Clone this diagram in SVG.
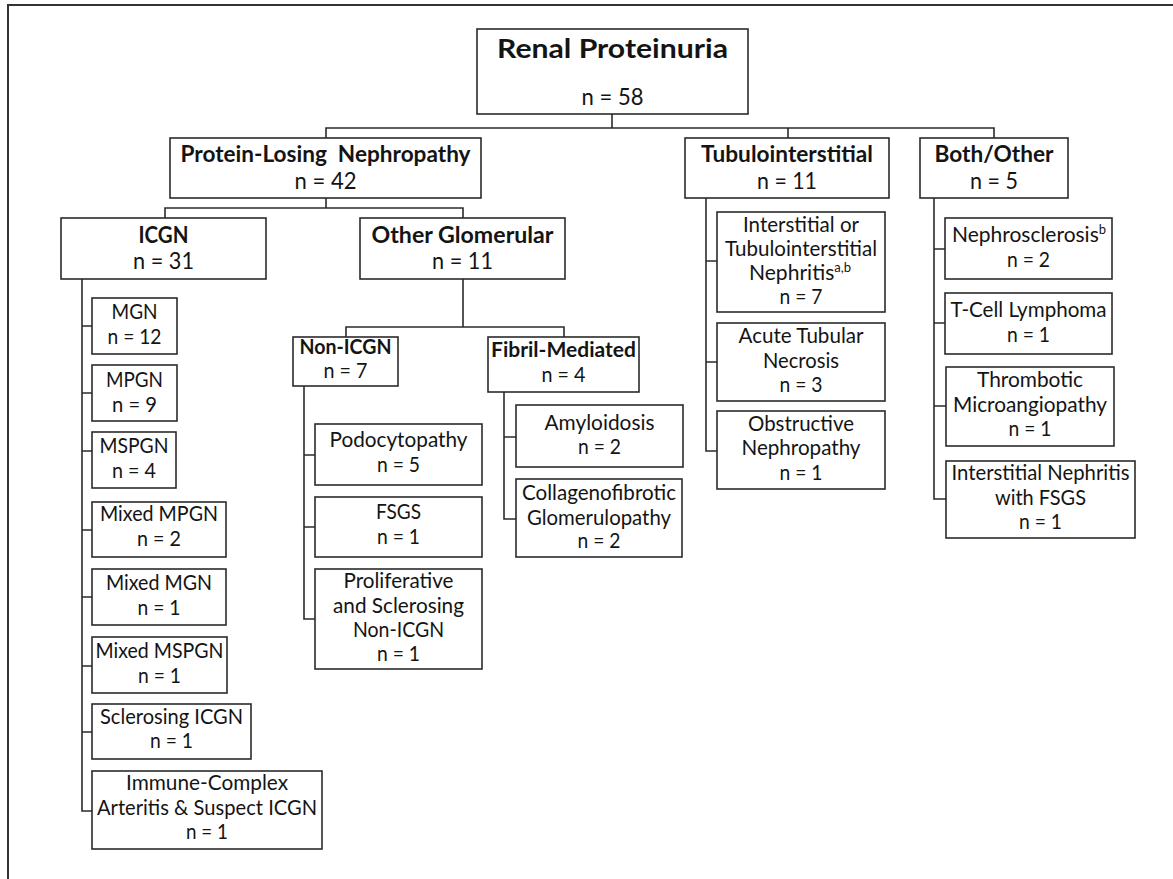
<svg xmlns="http://www.w3.org/2000/svg" width="1173" height="879" viewBox="0 0 1173 879">
<style>
rect.box{fill:#fff;stroke:#2b2b2b;stroke-width:1.6}
.conn path{fill:none;stroke:#2b2b2b;stroke-width:1.6}
text{font-family:Lato,"Open Sans","Liberation Sans",sans-serif;fill:#141414;text-anchor:middle}
.rt{font-size:27px;font-weight:700}
.hb{font-size:22px;font-weight:700}
.hn{font-size:23px}
.sb{font-size:20px;font-weight:700}
.lf{font-size:21px}
.sup{font-size:13px}
</style>
<rect width="1173" height="879" fill="#fff"/>
<path d="M8,879 V5 H1173" fill="none" stroke="#333" stroke-width="2"/>
<g id="connectors" class="conn">
<path d="M612,114 V128 M326,138 V128 H994 V138 M788,128 V138"/>
<path d="M326,198 V208 M165,218 V208 H463 V218"/>
<path d="M463,279 V327 M346,337 V327 H564 V337"/>
<path d="M82,279 V811 H92 M82,326 H92 M82,393 H92 M82,451 H92 M82,530 H92 M82,597 H92 M82,666 H92 M82,732 H92"/>
<path d="M304,386 V619 H315 M304,455 H315 M304,527 H315"/>
<path d="M504,392 V519 H516 M504,437 H516"/>
<path d="M706,198 V451 H717 M706,261 H717 M706,362 H717"/>
<path d="M934,198 V499 H946 M934,249 H945 M934,323 H945 M934,406 H946"/>
</g>
<g id="root"><rect class="box" x="477" y="29" width="271" height="85"/>
<text class="rt" x="612.5" y="58" textLength="231" lengthAdjust="spacingAndGlyphs">Renal Proteinuria</text>
<text class="hn" x="612.5" y="105" textLength="62" lengthAdjust="spacingAndGlyphs">n = 58</text></g>
<g id="pln"><rect class="box" x="170" y="138" width="311" height="60"/>
<text class="hb" x="325.5" y="162" textLength="290" lengthAdjust="spacingAndGlyphs">Protein-Losing&#160; Nephropathy</text>
<text class="hn" x="325.5" y="189" textLength="62" lengthAdjust="spacingAndGlyphs">n = 42</text></g>
<g id="tubulo"><rect class="box" x="685" y="138" width="204" height="60"/>
<text class="hb" x="787" y="162" textLength="172" lengthAdjust="spacingAndGlyphs">Tubulointerstitial</text>
<text class="hn" x="787" y="189" textLength="60" lengthAdjust="spacingAndGlyphs">n = 11</text></g>
<g id="both"><rect class="box" x="920" y="138" width="148" height="60"/>
<text class="hb" x="994" y="162" textLength="119" lengthAdjust="spacingAndGlyphs">Both/Other</text>
<text class="hn" x="994" y="189" textLength="48" lengthAdjust="spacingAndGlyphs">n = 5</text></g>
<g id="icgn"><rect class="box" x="61" y="218" width="205" height="61"/>
<text class="hb" x="163.5" y="243" textLength="50" lengthAdjust="spacingAndGlyphs">ICGN</text>
<text class="hn" x="163.5" y="269" textLength="61" lengthAdjust="spacingAndGlyphs">n = 31</text></g>
<g id="other-glomerular"><rect class="box" x="360" y="218" width="205" height="61"/>
<text class="hb" x="462.5" y="243" textLength="182" lengthAdjust="spacingAndGlyphs">Other Glomerular</text>
<text class="hn" x="462.5" y="269" textLength="61" lengthAdjust="spacingAndGlyphs">n = 11</text></g>
<g id="non-icgn"><rect class="box" x="293" y="337" width="105" height="49"/>
<text class="sb" x="345.5" y="354" textLength="92" lengthAdjust="spacingAndGlyphs">Non-ICGN</text>
<text class="lf" x="345.5" y="378" textLength="44" lengthAdjust="spacingAndGlyphs">n = 7</text></g>
<g id="fibril"><rect class="box" x="488" y="337" width="151" height="55"/>
<text class="sb" x="563.5" y="357" textLength="145" lengthAdjust="spacingAndGlyphs">Fibril-Mediated</text>
<text class="lf" x="563.5" y="382" textLength="44" lengthAdjust="spacingAndGlyphs">n = 4</text></g>
<g id="mgn"><rect class="box" x="92" y="298" width="85" height="56"/>
<text class="lf" x="134.5" y="319" textLength="46" lengthAdjust="spacingAndGlyphs">MGN</text>
<text class="lf" x="134.5" y="344" textLength="54" lengthAdjust="spacingAndGlyphs">n = 12</text></g>
<g id="mpgn"><rect class="box" x="92" y="365" width="85" height="56"/>
<text class="lf" x="134.5" y="387" textLength="57" lengthAdjust="spacingAndGlyphs">MPGN</text>
<text class="lf" x="134.5" y="412" textLength="45" lengthAdjust="spacingAndGlyphs">n = 9</text></g>
<g id="mspgn"><rect class="box" x="92" y="432" width="84" height="56"/>
<text class="lf" x="134" y="453" textLength="69" lengthAdjust="spacingAndGlyphs">MSPGN</text>
<text class="lf" x="134" y="478" textLength="44" lengthAdjust="spacingAndGlyphs">n = 4</text></g>
<g id="mixed-mpgn"><rect class="box" x="92" y="502" width="134" height="55"/>
<text class="lf" x="159" y="521" textLength="118" lengthAdjust="spacingAndGlyphs">Mixed MPGN</text>
<text class="lf" x="159" y="546" textLength="44" lengthAdjust="spacingAndGlyphs">n = 2</text></g>
<g id="mixed-mgn"><rect class="box" x="92" y="569" width="134" height="56"/>
<text class="lf" x="159" y="590" textLength="106" lengthAdjust="spacingAndGlyphs">Mixed MGN</text>
<text class="lf" x="159" y="615" textLength="43" lengthAdjust="spacingAndGlyphs">n = 1</text></g>
<g id="mixed-mspgn"><rect class="box" x="92" y="637" width="135" height="56"/>
<text class="lf" x="159.5" y="658" textLength="128" lengthAdjust="spacingAndGlyphs">Mixed MSPGN</text>
<text class="lf" x="159.5" y="683" textLength="43" lengthAdjust="spacingAndGlyphs">n = 1</text></g>
<g id="sclerosing-icgn"><rect class="box" x="92" y="704" width="159" height="55"/>
<text class="lf" x="171.5" y="724" textLength="143" lengthAdjust="spacingAndGlyphs">Sclerosing ICGN</text>
<text class="lf" x="171.5" y="748" textLength="43" lengthAdjust="spacingAndGlyphs">n = 1</text></g>
<g id="immune-complex"><rect class="box" x="92" y="771" width="230" height="78"/>
<text class="lf" x="207" y="790" textLength="162" lengthAdjust="spacingAndGlyphs">Immune-Complex</text>
<text class="lf" x="207" y="815" textLength="220" lengthAdjust="spacingAndGlyphs">Arteritis &amp; Suspect ICGN</text>
<text class="lf" x="207" y="839" textLength="42" lengthAdjust="spacingAndGlyphs">n = 1</text></g>
<g id="podocytopathy"><rect class="box" x="315" y="424" width="167" height="61"/>
<text class="lf" x="398.5" y="447" textLength="138" lengthAdjust="spacingAndGlyphs">Podocytopathy</text>
<text class="lf" x="398.5" y="472" textLength="43" lengthAdjust="spacingAndGlyphs">n = 5</text></g>
<g id="fsgs"><rect class="box" x="315" y="497" width="167" height="60"/>
<text class="lf" x="398.5" y="519" textLength="45" lengthAdjust="spacingAndGlyphs">FSGS</text>
<text class="lf" x="398.5" y="544" textLength="43" lengthAdjust="spacingAndGlyphs">n = 1</text></g>
<g id="proliferative"><rect class="box" x="315" y="569" width="167" height="100"/>
<text class="lf" x="398.5" y="588" textLength="110" lengthAdjust="spacingAndGlyphs">Proliferative</text>
<text class="lf" x="398.5" y="613" textLength="131" lengthAdjust="spacingAndGlyphs">and Sclerosing</text>
<text class="lf" x="398.5" y="637" textLength="91" lengthAdjust="spacingAndGlyphs">Non-ICGN</text>
<text class="lf" x="398.5" y="661" textLength="43" lengthAdjust="spacingAndGlyphs">n = 1</text></g>
<g id="amyloidosis"><rect class="box" x="516" y="405" width="167" height="62"/>
<text class="lf" x="599.5" y="430" textLength="110" lengthAdjust="spacingAndGlyphs">Amyloidosis</text>
<text class="lf" x="599.5" y="454" textLength="43" lengthAdjust="spacingAndGlyphs">n = 2</text></g>
<g id="collagenofibrotic"><rect class="box" x="516" y="479" width="166" height="78"/>
<text class="lf" x="599" y="500" textLength="154" lengthAdjust="spacingAndGlyphs">Collagenofibrotic</text>
<text class="lf" x="599" y="525" textLength="144" lengthAdjust="spacingAndGlyphs">Glomerulopathy</text>
<text class="lf" x="599" y="548" textLength="43" lengthAdjust="spacingAndGlyphs">n = 2</text></g>
<g id="interstitial-nephritis"><rect class="box" x="717" y="212" width="168" height="100"/>
<text class="lf" x="801" y="232" textLength="116" lengthAdjust="spacingAndGlyphs">Interstitial or</text>
<text class="lf" x="801" y="256" textLength="152" lengthAdjust="spacingAndGlyphs">Tubulointerstitial</text>
<text class="lf" x="800" y="280" textLength="102" lengthAdjust="spacingAndGlyphs">Nephritis<tspan class="sup" dy="-8">a,b</tspan></text>
<text class="lf" x="801" y="304" textLength="43" lengthAdjust="spacingAndGlyphs">n = 7</text></g>
<g id="acute-tubular-necrosis"><rect class="box" x="717" y="323" width="168" height="78"/>
<text class="lf" x="801" y="343" textLength="125" lengthAdjust="spacingAndGlyphs">Acute Tubular</text>
<text class="lf" x="801" y="368" textLength="76" lengthAdjust="spacingAndGlyphs">Necrosis</text>
<text class="lf" x="801" y="392" textLength="43" lengthAdjust="spacingAndGlyphs">n = 3</text></g>
<g id="obstructive-nephropathy"><rect class="box" x="717" y="411" width="168" height="78"/>
<text class="lf" x="801" y="431" textLength="106" lengthAdjust="spacingAndGlyphs">Obstructive</text>
<text class="lf" x="801" y="455" textLength="119" lengthAdjust="spacingAndGlyphs">Nephropathy</text>
<text class="lf" x="801" y="480" textLength="43" lengthAdjust="spacingAndGlyphs">n = 1</text></g>
<g id="nephrosclerosis"><rect class="box" x="945" y="218" width="167" height="61"/>
<text class="lf" x="1029" y="242" textLength="154" lengthAdjust="spacingAndGlyphs">Nephrosclerosis<tspan class="sup" dy="-8">b</tspan></text>
<text class="lf" x="1028.5" y="267" textLength="43" lengthAdjust="spacingAndGlyphs">n = 2</text></g>
<g id="t-cell-lymphoma"><rect class="box" x="945" y="293" width="167" height="61"/>
<text class="lf" x="1028.5" y="317" textLength="156" lengthAdjust="spacingAndGlyphs">T-Cell Lymphoma</text>
<text class="lf" x="1028.5" y="342" textLength="43" lengthAdjust="spacingAndGlyphs">n = 1</text></g>
<g id="thrombotic-microangiopathy"><rect class="box" x="946" y="367" width="168" height="79"/>
<text class="lf" x="1030" y="387" textLength="106" lengthAdjust="spacingAndGlyphs">Thrombotic</text>
<text class="lf" x="1030" y="412" textLength="154" lengthAdjust="spacingAndGlyphs">Microangiopathy</text>
<text class="lf" x="1030" y="436" textLength="43" lengthAdjust="spacingAndGlyphs">n = 1</text></g>
<g id="interstitial-nephritis-fsgs"><rect class="box" x="946" y="461" width="189" height="77"/>
<text class="lf" x="1040.5" y="480" textLength="178" lengthAdjust="spacingAndGlyphs">Interstitial Nephritis</text>
<text class="lf" x="1040.5" y="505" textLength="91" lengthAdjust="spacingAndGlyphs">with FSGS</text>
<text class="lf" x="1040.5" y="529" textLength="43" lengthAdjust="spacingAndGlyphs">n = 1</text></g>
</svg>
